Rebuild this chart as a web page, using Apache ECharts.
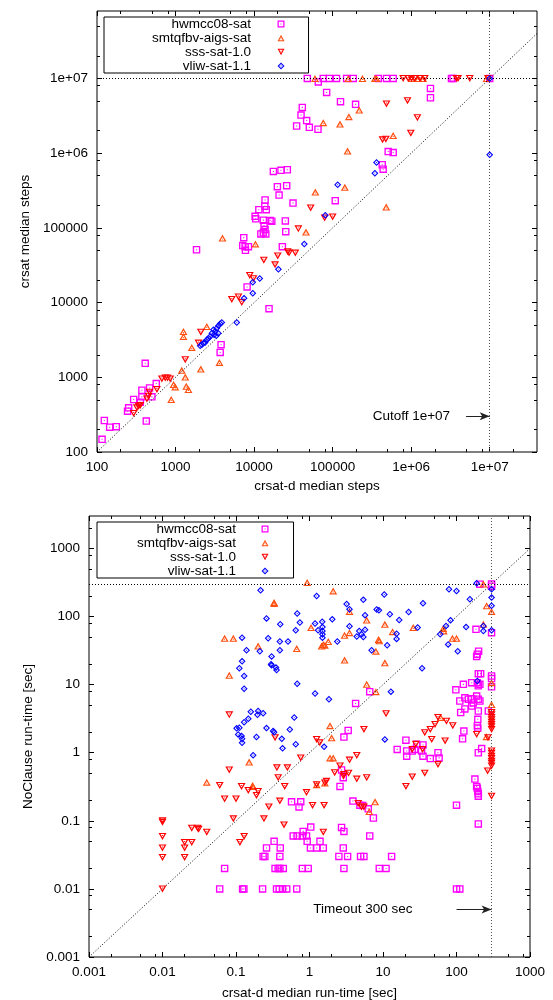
<!DOCTYPE html>
<html>
<head>
<meta charset="utf-8">
<script src="https://cdn.jsdelivr.net/npm/echarts@6/dist/echarts.min.js"></script>
<style>
  body { margin: 0; background: #fff; }
  #chart { width: 553px; height: 1000px; }
</style>
</head>
<body>
<div id="chart"></div>
<script>
// ---- data: top chart (median steps), [crsat-d, crsat] ----
var hwmccSteps = [
  [47600, 1e7], [65700, 9.0e6], [76000, 1e7], [90700, 1e7], [112000, 1e7], [150700, 1e7], [183000, 1e7],
  [381000, 1e7], [485000, 1e7], [590000, 1e7], [3260000, 1e7], [3420000, 1e7], [1e7, 1e7],
  [1760000, 7360000], [1760000, 5520000], [83900, 6500000], [126000, 4890000], [196000, 4500000],
  [41100, 4100000], [39600, 3240000], [46700, 2730000], [34800, 2310000], [50500, 2220000], [65100, 2090000],
  [510000, 1050000], [590000, 1020000], [428000, 700000], [440000, 610000], [17600, 570000], [22000, 590000],
  [26500, 600000], [19800, 356000], [26000, 367000], [20800, 275000], [108000, 231000], [31300, 215000],
  [13800, 236000], [13700, 195000], [14300, 175000], [11500, 175000], [10300, 143000], [10500, 132000],
  [13100, 127000], [16000, 126000], [16800, 123000], [13400, 107000], [13800, 95000], [13100, 86000],
  [12200, 83000], [14100, 83000], [25000, 124000], [25300, 89000], [7390, 74000], [7180, 58000],
  [7690, 56000], [8470, 56000], [7760, 50000], [1850, 51000], [22900, 56000], [8150, 16200], [15500, 8300],
  [3800, 2730], [3700, 2150], [411, 1540], [568, 824], [373, 671], [467, 721], [500, 547], [293, 504],
  [356, 464], [373, 547], [253, 390], [245, 352], [424, 259], [124, 264], [145, 215], [176, 218], [116, 148]
];
var smtSteps = [
  [59600, 1e7], [158000, 1e7], [240000, 1e7], [345000, 1e7], [362000, 1e7], [1010000, 1e7], [1230000, 1e7],
  [1420000, 1e7], [9100000, 1e7],
  [218000, 3780000], [161000, 3080000], [76000, 2560000], [124000, 2460000], [590000, 1720000],
  [155000, 1070000], [143000, 349000], [60200, 302000], [481000, 190000], [45800, 88000], [3960, 73000],
  [10400, 61000], [2500, 4790], [1260, 4100], [1260, 3520], [1610, 2510], [3620, 1580], [2100, 1290],
  [1200, 1240], [1330, 1010], [944, 798], [991, 743], [1370, 759], [1460, 685], [881, 504]
];
var sssSteps = [
  [791000, 1e7], [916000, 1e7], [1010000, 1e7], [1110000, 1e7], [1290000, 1e7], [1490000, 1e7],
  [3770000, 1e7], [3950000, 1e7], [5570000, 1e7], [9500000, 1e7],
  [485000, 4550000], [898000, 5040000], [1200000, 2990000], [990000, 1850000], [432000, 1510000],
  [476000, 1540000], [52500, 185000], [100000, 140000], [79100, 136000], [36600, 97000], [26800, 48000],
  [27900, 46000], [33500, 46000], [20000, 42000], [13300, 37000], [18500, 32000], [8810, 23100],
  [9810, 20900], [5200, 11000], [6320, 11900], [6970, 10000], [2100, 4020], [1960, 2870], [1330, 1720],
  [670, 950], [739, 980], [791, 980], [855, 950], [579, 686], [467, 631], [432, 514], [454, 558],
  [356, 419], [322, 390], [293, 328], [339, 410]
];
var vliwSteps = [
  [1e7, 1e7], [1e7, 950000], [362000, 750000], [345000, 540000], [116000, 378000], [80700, 148000],
  [43600, 61000], [20400, 28000], [11800, 21000], [9620, 18700], [9620, 13300], [7460, 11400], [6020, 5400],
  [3880, 5410], [3700, 5200], [3520, 4890], [3350, 4550], [3040, 4320], [3200, 4100], [2900, 3900],
  [3100, 3710], [2760, 3520], [2630, 3340], [2500, 3180], [2380, 2930], [2270, 2870], [2160, 2730],
  [2060, 2640], [3500, 3900], [3300, 3600]
];

// ---- data: bottom chart (run-time in sec), [crsat-d, NoClause] ----
var hwmccTime = [
  [208, 299], [300, 300], [300, 280], [184, 65], [300, 58], [200, 31], [192, 28], [188, 26], [198, 14.5],
  [213, 14.5], [300, 13.4], [300, 12.3], [300, 9.3], [192, 10.7], [208, 10.1], [198, 9.6], [161, 10.7],
  [124, 10.1], [98, 8.4], [6.6, 7.9], [4.24, 5.3], [130, 6.4], [111, 5.75], [145, 6.1], [161, 6.2],
  [188, 6.8], [198, 6.1], [169, 5.4], [161, 4.85], [130, 4.4], [114, 3.9], [208, 5.75], [198, 4.1],
  [271, 4.1], [195, 3.1], [195, 2.3], [192, 2.5], [126, 2.08], [121, 1.6], [220, 1.15], [198, 1.0],
  [3.36, 2.13], [2.94, 1.7], [20.5, 1.53], [15.6, 1.12], [21, 1.06], [21, 0.89], [27, 1.12], [28.7, 1.33],
  [35, 1.3], [33.5, 1.06], [35, 0.89], [44, 0.82], [56, 1.0], [58, 0.84], [25, 1.06], [2.73, 0.56],
  [2.88, 0.43], [2.6, 0.32], [3.9, 0.195], [4.85, 0.17], [5.3, 0.168], [6.3, 0.15], [100, 0.17],
  [178, 0.41], [188, 0.32], [192, 0.30], [195, 0.27], [198, 0.25], [198, 0.23], [0.57, 0.19], [0.76, 0.19],
  [0.72, 0.16], [1.04, 0.081], [0.33, 0.05], [0.26, 0.04], [0.234, 0.03], [0.247, 0.03], [0.40, 0.04],
  [0.395, 0.03], [0.60, 0.06], [0.68, 0.06], [0.80, 0.06], [0.91, 0.06], [0.82, 0.07], [0.93, 0.05],
  [1.03, 0.04], [1.25, 0.04], [1.54, 0.04], [1.39, 0.05], [2.73, 0.08], [2.94, 0.07], [2.88, 0.04],
  [2.51, 0.03], [3.3, 0.03], [4.95, 0.03], [5.5, 0.03], [13.1, 0.03], [6.6, 0.06], [7.4, 0.11], [198, 0.09],
  [0.07, 0.02], [0.34, 0.02], [0.375, 0.02], [0.395, 0.02], [0.44, 0.02], [0.80, 0.02], [0.96, 0.02],
  [2.94, 0.02], [8.9, 0.02], [11, 0.02],
  [0.06, 0.01], [0.123, 0.01], [0.128, 0.01], [0.23, 0.01], [0.356, 0.01], [0.387, 0.01], [0.43, 0.01],
  [0.49, 0.01], [0.67, 0.01], [100, 0.01], [111, 0.01]
];
var smtTime = [
  [0.93, 316], [232, 300], [2.1, 238], [0.33, 161], [0.33, 155], [257, 144], [300, 119], [3.5, 119],
  [6.0, 89], [1.05, 69], [10.6, 77], [13.5, 60], [3.5, 58], [3.0, 53], [25.8, 69], [66, 67], [67, 61.5],
  [88, 48], [100, 48], [232, 77], [0.07, 48], [0.092, 48], [0.2, 37], [0.67, 34], [1.54, 39], [1.62, 38],
  [1.46, 37], [1.8, 43], [8.7, 46], [8.9, 44], [8.0, 31], [3.0, 23], [10.6, 21], [0.081, 13.7], [300, 10.7],
  [6.0, 10.1], [8.0, 7.9], [300, 5.1], [61, 3.3], [1.9, 2.5], [2.0, 1.66], [255, 1.72], [1.9, 0.84],
  [2.1, 0.84], [1.25, 0.34], [1.62, 0.36], [0.151, 0.73], [0.04, 0.37], [0.168, 0.33], [0.17, 0.32],
  [7.8, 0.19], [6.5, 0.137]
];
var sssTime = [
  [300, 3.9], [300, 3.6], [300, 3.3], [300, 3.05], [300, 2.8], [300, 2.6], [300, 2.4], [300, 2.2],
  [300, 1.06], [300, 0.98], [300, 0.89], [300, 0.82], [300, 0.75], [300, 0.70], [300, 0.64], [265, 0.54],
  [300, 0.23], [188, 1.86], [268, 1.66], [56, 3.3], [73, 2.9], [89, 2.5], [51, 2.6], [44, 2.2], [37, 1.97],
  [46, 1.57], [70, 1.49], [11, 3.75], [5.5, 2.2], [1.25, 1.57], [1.38, 1.4], [28, 1.33], [25, 1.12],
  [34.6, 1.12], [56, 0.67], [4.4, 0.91], [3.5, 0.78], [2.6, 0.64], [2.2, 0.51], [2.94, 0.48], [3.4, 0.50],
  [4.4, 0.41], [2.9, 0.45], [6.0, 0.43], [0.76, 0.84], [0.36, 0.60], [0.50, 0.60], [0.375, 0.43],
  [0.46, 0.32], [1.62, 0.36], [1.25, 0.34], [1.7, 0.38], [0.91, 0.26], [20.5, 0.32], [25, 0.44], [37, 0.50],
  [4.6, 0.18], [5.1, 0.16], [5.5, 0.16], [0.081, 3.6], [0.34, 1.66], [0.081, 0.56], [0.06, 0.33],
  [0.119, 0.32], [0.147, 0.28], [0.19, 0.236], [0.2, 0.27], [0.07, 0.21], [0.10, 0.21], [0.28, 0.16],
  [0.395, 0.195], [1.1, 0.168], [1.58, 0.168], [0.01, 0.1], [0.01, 0.095], [0.01, 0.059], [0.01, 0.040],
  [0.01, 0.029], [0.01, 0.01], [0.020, 0.048], [0.020, 0.040], [0.020, 0.029], [0.025, 0.048],
  [0.025, 0.078], [0.030, 0.078], [0.031, 0.075], [0.040, 0.068], [0.092, 0.107], [0.113, 0.048],
  [0.129, 0.059], [0.24, 0.107], [0.45, 0.087], [1.54, 0.068]
];
var vliwTime = [
  [188, 309], [0.216, 244], [1.25, 201], [10.4, 211], [79, 252], [100, 238], [152, 180], [3.2, 153],
  [5.4, 176], [35, 157], [300, 252], [300, 190], [300, 144], [0.68, 111], [3.5, 128], [8.2, 127], [8.8, 124],
  [5.7, 105], [12.4, 108], [22.3, 117], [0.26, 94], [16.6, 89], [2.04, 91], [0.74, 82], [0.40, 77],
  [1.19, 79], [1.49, 84], [1.5, 70], [1.5, 61.5], [1.5, 55], [1.5, 49], [1.31, 63], [0.65, 63], [15.3, 56],
  [15.3, 47], [3.5, 72], [4.75, 61.5], [5.1, 55], [5.4, 50], [4.4, 51], [5.7, 64], [29.6, 69], [72, 73],
  [83, 88], [60, 55], [135, 70], [232, 73], [232, 61.5], [300, 63], [77, 39], [104, 31], [0.121, 49],
  [0.274, 48], [0.395, 43], [0.51, 43], [0.139, 32], [0.211, 31], [0.305, 26], [0.395, 32], [2.39, 43],
  [11.4, 38], [7.0, 32], [0.121, 22], [0.3, 20], [0.111, 17.4], [0.129, 13.4], [0.305, 19.2], [0.35, 17.8],
  [0.356, 16.4], [0.129, 8.7], [34, 17.4], [192, 11.3], [12.8, 7.9], [0.68, 10.3], [1.19, 7.4], [1.84, 6.1],
  [0.159, 4.0], [0.2, 4.1], [0.234, 3.8], [0.196, 3.6], [0.147, 3.16], [0.129, 2.8], [0.102, 2.28],
  [0.111, 2.33], [0.107, 1.86], [0.119, 1.76], [0.121, 1.6], [0.121, 1.4], [0.19, 1.7], [0.171, 0.92],
  [0.26, 2.3], [0.32, 2.08], [0.33, 2.0], [0.42, 1.6], [0.43, 1.16], [0.54, 2.2], [0.62, 3.3], [0.65, 1.33],
  [1.58, 1.22], [10.6, 1.57]
];

var seriesNames = ['hwmcc08-sat', 'smtqfbv-aigs-sat', 'sss-sat-1.0', 'vliw-sat-1.1'];
var seriesColors = ['#ff00ff', '#ff5010', '#ff0000', '#0000ff'];

var stepsX = [100, 4e7], stepsY = [100, 8e7];
var timeX = [0.001, 1000], timeY = [0.001, 3000];
var cutoff = 1e7, timeout = 300;
var minorMults = [2, 5, 8];

// gnuplot-like open points with a dot in the middle
var SYM = {
  square: 'path://M0,0H10V10H0Z M1.8,1.8V8.2H8.2V1.8Z M4.3,4.3H5.7V5.7H4.3Z',
  triUp: 'path://M5,0L10,9H0Z M5,3.2L2.55,7.6H7.45Z M4.4,5.2H5.6V6.4H4.4Z',
  triDown: 'path://M0,0H10L5,9Z M2.55,1.4L5,5.8L7.45,1.4Z M4.4,2.6H5.6V3.8H4.4Z',
  diamond: 'path://M5,0L10,5L5,10L0,5Z M5,2.2L2.2,5L5,7.8L7.8,5Z M4.4,4.4H5.6V5.6H4.4Z'
};
var symbols = [SYM.square, SYM.triUp, SYM.triDown, SYM.diamond];
var symSizes = [7.5, [8, 7], [8, 7], 7];

var FONT = 'Liberation Sans, Arial, sans-serif';

function isDecade(v) {
  var l = Math.log10(v);
  return Math.abs(l - Math.round(l)) < 1e-6;
}
function fmtSteps(v) {
  if (!isDecade(v)) return '';
  var e = Math.round(Math.log10(v));
  return e >= 6 ? '1e+0' + e : String(Math.round(Math.pow(10, e)));
}
function fmtTime(v) {
  if (!isDecade(v)) return '';
  var e = Math.round(Math.log10(v));
  return e < 0 ? Math.pow(10, e).toFixed(-e) : String(Math.round(Math.pow(10, e)));
}

function mainAxis(dim, gi, range, fmt, name, gap) {
  return {
    type: 'log', logBase: 10, gridIndex: gi,
    position: dim === 'x' ? 'bottom' : 'left',
    min: range[0], max: range[1],
    name: name, nameLocation: 'middle', nameGap: gap,
    nameTextStyle: { color: '#000', fontSize: 13.5, fontFamily: FONT },
    axisLine: { show: false }, axisTick: { show: false },
    splitLine: { show: false }, minorTick: { show: false },
    axisLabel: {
      color: '#000', fontSize: 13.5, fontFamily: FONT,
      margin: dim === 'x' ? 8 : 9, formatter: fmt,
      showMinLabel: true, showMaxLabel: true
    }
  };
}

// tick marks on all four sides (major at decades, minor at 2,5,8)
function tickAxes(dim, gi, range) {
  var lo = Math.log10(range[0]), hi = Math.log10(range[1]);
  var major = [], minor = [];
  for (var e = Math.floor(lo); e <= Math.ceil(hi); e++) {
    if (e >= lo - 1e-9 && e <= hi + 1e-9) major.push(e);
    minorMults.forEach(function (m) {
      var v = e + Math.log10(m);
      if (v > lo && v < hi) minor.push(v);
    });
  }
  var sides = dim === 'x' ? ['bottom', 'top'] : ['left', 'right'];
  var out = [];
  sides.forEach(function (pos) {
    [[major, 5], [minor, 3]].forEach(function (t) {
      out.push({
        type: 'value', gridIndex: gi, position: pos, min: lo, max: hi,
        axisLine: { show: false, onZero: false },
        axisLabel: { show: false }, splitLine: { show: false },
        axisTick: { show: true, inside: true, length: t[1], customValues: t[0],
          lineStyle: { color: '#000', width: 1 } }
      });
    });
  });
  return out;
}

function scatterSeries(datas, gi) {
  return datas.map(function (d, i) {
    return {
      name: seriesNames[i], type: 'scatter', xAxisIndex: gi, yAxisIndex: gi,
      data: d, symbol: symbols[i], symbolSize: symSizes[i],
      itemStyle: { color: seriesColors[i], opacity: 1 },
      emphasis: { disabled: true }, z: 3 + i
    };
  });
}

var dotted = { type: [1, 2], color: '#000', width: 1 };

function refLines(gi, xr, yr, limit, arrowFrom, arrowY, text, dist) {
  var diagEnd = Math.min(xr[1], yr[1]);
  return {
    type: 'scatter', xAxisIndex: gi, yAxisIndex: gi, data: [], silent: true, z: 2,
    markLine: {
      silent: true, symbol: 'none', animation: false,
      lineStyle: dotted, label: { show: false },
      data: [
        [{ coord: [xr[0], yr[0]] }, { coord: [diagEnd, diagEnd] }],
        [{ coord: [xr[0], limit] }, { coord: [xr[1], limit] }],
        [{ coord: [limit, yr[0]], lineStyle: { color: '#555' } }, { coord: [limit, yr[1]] }],
        [{
          coord: [arrowFrom, arrowY], symbol: 'none',
          lineStyle: { type: 'solid', color: '#222', width: 1 },
          label: { show: true, position: 'start', formatter: text, distance: dist,
            color: '#000', fontSize: 13.5, fontFamily: FONT }
        }, { coord: [limit, arrowY], symbol: 'arrow', symbolSize: [6, 10] }]
      ]
    }
  };
}

function legendAt(left, top, padL, padR, textPad) {
  return {
    data: seriesNames, orient: 'vertical', left: left, top: top, align: 'right',
    itemWidth: 7, itemHeight: 7, itemGap: 0, padding: [0, padR, 0, padL],
    borderColor: '#000', borderWidth: 1, selectedMode: false,
    itemStyle: { borderWidth: 0 },
    textStyle: { color: '#000', fontSize: 13.5, fontFamily: FONT, lineHeight: 14,
      padding: [0, textPad, 0, 0] }
  };
}

var xAxes = [
  mainAxis('x', 0, stepsX, fmtSteps, 'crsat-d median steps', 27),
  mainAxis('x', 1, timeX, fmtTime, 'crsat-d median run-time [sec]', 29)
].concat(tickAxes('x', 0, stepsX), tickAxes('x', 1, timeX));

var yAxes = [
  mainAxis('y', 0, stepsY, fmtSteps, 'crsat median steps', 64),
  mainAxis('y', 1, timeY, fmtTime, 'NoClause run-time [sec]', 50)
].concat(tickAxes('y', 0, stepsY), tickAxes('y', 1, timeY));

var chart = echarts.init(document.getElementById('chart'), null, { renderer: 'canvas' });
chart.setOption({
  backgroundColor: '#fff',
  animation: false,
  textStyle: { fontFamily: FONT },
  grid: [
    { left: 97, top: 11, width: 440, height: 441, show: true, borderColor: '#000', borderWidth: 1,
      backgroundColor: 'transparent', outerBoundsMode: 'none' },
    { left: 89, top: 516, width: 441, height: 441, show: true, borderColor: '#000', borderWidth: 1,
      backgroundColor: 'transparent', outerBoundsMode: 'none' }
  ],
  legend: [
    legendAt(104, 17, 48, 24, 21.5),
    legendAt(97, 522, 40, 25, 20.5)
  ],
  xAxis: xAxes,
  yAxis: yAxes,
  series: [refLines(0, stepsX, stepsY, cutoff, 5e6, 300, 'Cutoff 1e+07', 16)]
    .concat(scatterSeries([hwmccSteps, smtSteps, sssSteps, vliwSteps], 0))
    .concat([refLines(1, timeX, timeY, timeout, 100, 0.005, 'Timeout 300 sec', 44)])
    .concat(scatterSeries([hwmccTime, smtTime, sssTime, vliwTime], 1))
});
</script>
</body>
</html>
